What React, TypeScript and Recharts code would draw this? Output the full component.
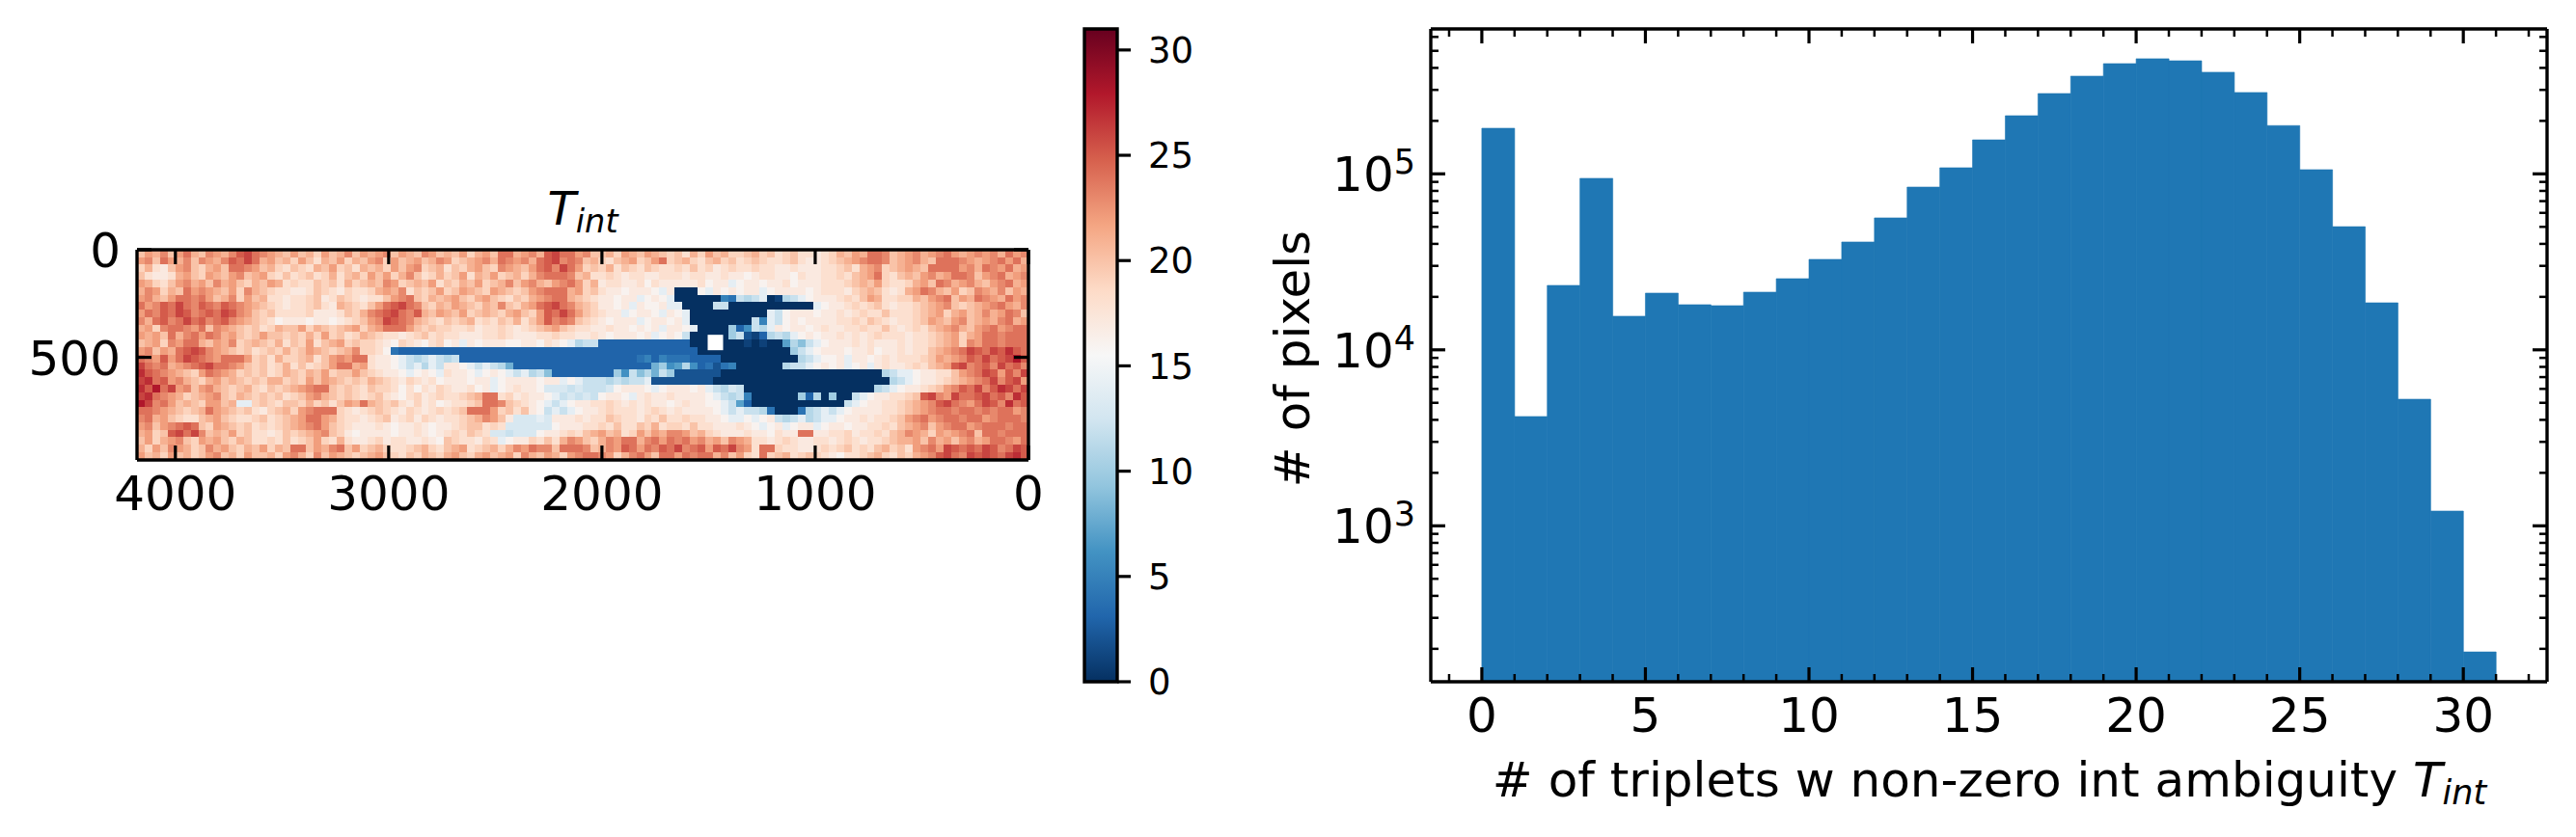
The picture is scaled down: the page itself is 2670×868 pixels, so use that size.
import React from "react";
import {
  BarChart,
  Bar,
  ScatterChart,
  Scatter,
  XAxis,
  YAxis,
} from "recharts";

const FONT = "DejaVu Sans";
const HIST_COLOR = "#1f77b4";

// histogram, one bin per integer 0..30
const HIST_COUNTS = [
  181600, 4180, 23230, 94300, 15520, 21000, 18050, 17820, 21270, 25370, 32660,
  41000, 56200, 84100, 108300, 156000, 214000, 286000, 359000, 423000, 451000,
  439000, 378000, 290000, 188000, 105600, 50100, 18500, 5240, 1213, 192,
];
const HIST_X_TICKS = [0, 5, 10, 15, 20, 25, 30];
const HIST_X_MINOR = [
  -1, 1, 2, 3, 4, 6, 7, 8, 9, 11, 12, 13, 14, 16, 17, 18, 19, 21, 22, 23, 24, 26,
  27, 28, 29, 31, 32,
];
const HIST_Y_TICKS = [1000, 10000, 100000];
const HIST_Y_MINOR = [
  200, 300, 400, 500, 600, 700, 800, 900, 2000, 3000, 4000, 5000, 6000, 7000,
  8000, 9000, 20000, 30000, 40000, 50000, 60000, 70000, 80000, 90000, 200000,
  300000, 400000, 500000, 600000,
];

const HEAT_X_TICKS = [4000, 3000, 2000, 1000, 0];
const HEAT_Y_TICKS = [0, 500];
const CBAR_TICKS = [0, 5, 10, 15, 20, 25, 30];
const CBAR_DATA = [{ slot: "scale", top: 31 }];

// RdBu_r stops
const RDBU = [
  "#053061", "#2166ac", "#4393c3", "#92c5de", "#d1e5f0", "#f7f7f7", "#fddbc7",
  "#f4a582", "#d6604d", "#b2182b", "#67001f",
];

const HEAT_ROWS = [
  "kmlnkmolkn mlnpqonmlk mkljmklnkm lmnkmlknmk lkmjlmkool mnlpqoomnk kljmlkmlkj kiljmkljjk ljkijkiihi jlkmloonkl mnlmnomlmn mnlomn",
  "mnkomlnknm lnpoqolmkl jmkilkmjlk mnjmklmkln mjklmnlonm nlopqnonkl jiklmjkmoj kljikljkij kjiijkihhi jklmnoonkl mnlkooonml mnomol",
  "jlihkmnkjl mkoonmklji kjilkmjkil kljmkmnjkl ikjlmkjnml kmopnqomjk jlikjikjii jikijhijii jiihhihhhi ijkilmnjkl mlkoooomnl onmolm",
  "kihhilmkjm lkmnklmjik ijkijliklj mkmjlnkijl jkmilkmjkl jlnooonkli ijihiihhii ihiihhihhg hiihhgihhi ijiklmojik lkmnlmoonk mnolmn",
  "mljikmnlmk nlmkjlkmli jiikjkiljk lknmjklkmi kjlkmjklnk mnlkmnomjl hiihhigihh hhhighhegh hghhighhhi iijklkmjii jlmkonlmnl kmnolm",
  "lnmjlkomnm lkmjnlkjii hhikjihjii jlmlnikjkm jkmlkjmlkj kmnooolmjk ihhghhhgeh 000gehghgh heghhhhghi iihjklkihi lmonlkmjkn mlnkml",
  "mnlkmoonom klnjmkliih iijkhikjih iikmnokjlk lmkjlmkjik jlmnoolkji hhghheghge 00000054cb ce01bceghh hijikmliij jlkmnokmlo nmlomn",
  "omnpoqonpo nponmlkjih iijkihlkji kmopqonkjl kmlkjlknkj lmopqonlkj hhghehgghe e0000cc000 00000000eg hhijijkihi ijklmnkjkl mnomln",
  "monpoqpnop oqpnmkjkii iijhhhikjl nopqonplkm lkmjklkjlm kjmpoqomkj ihheghhgeh ge00000000 00ecghhhgh hihijiikii ijklmjlmkl nlmonk",
  "nlopnoqopn opnmlkjigh hhghhghijk mnqponlkji kjklijikjl ikmpnonkji hghhheghhg he00000000 c5ecghghhh hiijikjihi ijkmlkmnkl mlnolm",
  "lmjnoonmok nmlkjkijlk kmjlkjklmj lmooomkjkj jiijhiijih ijklmkjiih hihhghgheh hge0000a36 cbehghhghi hhiijiikih ijiklmnlkm nomnoo",
  "mlmkolnomo nlmkjkmkkj kjljmjkijl kjiihijkij iihhhiijih hhiijiihhi hghhhghegh gc00000ac2 13bcbeghgh hihihijiii hiijklmjlm oonooo",
  "klmjnmoolk mlnjklkjli kjmiklmjkj jihgjihgij ghehghhhgg hhgihgebcc 3333333333 3300000001 01007b9ceg hhhihihhhi hiijklmjnm oonooo",
  "mnkmlopqpn mlkjkijkjl jkmlkjklnj jig4333333 3333333333 3333333333 3333333333 3330000000 00000acegh hhghhighhi hiiklmnoqp oqprpo",
  "onmpmoqpon mooomjkilj jklikmnmoo ihhgecbcec bc33333333 3333333333 3333345354 4433330000 000000bceg ghehhghihi iijkmlmnpo qopqsp",
  "qonolmnopq oonmkjkijl ikijkmoolm ihhgecebec hhgececb83 3333333333 33333338a6 7b63424500 0000bccegh gheghehihh ijiklmpqno pnqopn",
  "rponmlkjmo nmljkjkijl kjlkmjkkmk jihhgeghge ihhgeghgec ebc9333333 33a6c9b8ca 2222220000 0000000000 0000000bce eghhiikmno qpmpnq",
  "qropmnlkjl mklkjkjllj kjmkmlkjkj lkjihjihig hhhghheghh hhghhegecc cbcbcce222 2222200000 0000000000 00000000bc eghhijklmn oqnpqm",
  "rpsoqmnkmn lkjkljikjk lmnookjkji kjjigigihj ihhigheghi hhgdddcdcc cdghhhgegh hhghecbdc0 0000000000 000000bceg hhijkmnpoq nprqoq",
  "qronmljklm nkjlkjkjki jkmnlkjkji jkihgijhij iijklooijh ihhgecdcdc ghhgehihhi hhhhgecbc5 000000a3b0 a00ceghhii jkpqnmqoop qopnrp",
  "sqnomklkjm mkleejkjik kjljkikmlo lkjkihjhig hiijkoonkj ihgeceghhi ijihihihhg hihhggec73 0000000000 00ceghhiij klmnpqonmo qpnrop",
  "oonmlkjklo mlkjkihjkl jmnooojihi jkjihjihij ijkooomjki khgceceghh ijiiihijih ihhhhgecec cb40004bce ceghhhhiij klmnoonoon onoomn",
  "nolmkjiikl mkjiijkijk lmoomljiih ijkhijhjih iijklnmkhd ddedhhhihi ikjiihjiki ijiihhgeeg eghcbcebce eghhihiijk mnomnoonoo mnooon",
  "mnkmnopokj mlkjkijijk lmnomkjihh hihghhihgh hijkkijidd ddddghhhii jikiikjlij jikiihhhih gegheghheg hhghhiijik lmnkmnoomn ooonoo",
  "lmjkpqoqnk lkmjkiihik jklmnkjhgh hhhghhihgh ijikjiddcd ddghhijikl mklijmkmln nmkljihhhi hhgihhoohh iijhiijikl nmljmlmnok oonooo",
  "kmjlmnkjml mkjlkiijik ijkmjilihh ijhiihhihg kjiihjiegh hjikilnmkj lnmoolnomo nomnlmknml iihijihhii hijihiijkl lmknlmkmnl moonmo",
  "ljmknmljkn lmkjlkmjlk ookmlnokmj kljiijklji klmijkljln monnkooonk lnmpomonpo qnopmpoqnm ioojiihhij ijkijikljk imnomqpopo qpnoqp",
  "mkljmkljkm nkljmkkljm nljnkmlkjk lmkjikjlkj lmkjlmklmj nlkmljmnoo nmjlnomkoo monoolnkmj iojklijkji hgiijkljik jlmnpqonqp qpoqrp",
];

const HEAT_W = 4180;
const HEAT_H = 977;
const HEAT_COLS = 116;
const VMAX = 31;
// blank rectangle in the map (masked pixels)
const HOLE_DATA = [{ x: 1468, y: 431 }];

const heatCells = HEAT_ROWS.flatMap((row, r) =>
  row
    .replace(/ /g, "")
    .split("")
    .map((ch, c) => ({
      x: HEAT_W - ((c + 0.5) * HEAT_W) / HEAT_COLS,
      y: ((r + 0.5) * HEAT_H) / HEAT_ROWS.length,
      v: parseInt(ch, 32),
    }))
);

const histData = HIST_COUNTS.map((count, i) => ({ bin: i + 0.5, count }));
const HIST_X_ALL = [...HIST_X_TICKS, ...HIST_X_MINOR].sort((a, b) => a - b);
const HIST_Y_ALL = [...HIST_Y_TICKS, ...HIST_Y_MINOR].sort((a, b) => a - b);

function rdbu(v: number) {
  const t = (Math.min(v, VMAX) / VMAX) * (RDBU.length - 1);
  const i = Math.min(Math.floor(t), RDBU.length - 2);
  const f = t - i;
  const ch = (hex: string, o: number) => parseInt(hex.slice(o, o + 2), 16);
  const mix = (o: number) =>
    Math.round(ch(RDBU[i], o) * (1 - f) + ch(RDBU[i + 1], o) * f);
  return `rgb(${mix(1)},${mix(3)},${mix(5)})`;
}

const SPINE = 3.4;
const axisLine = { stroke: "#000", strokeWidth: SPINE };
const MAJOR_LEN = 15;
const MINOR_LEN = 8;
const MAJOR_W = 3.2;
const MINOR_W = 2.5;

// inward tick; dx/dy give the direction, majors are longer and may carry a label
const inTick =
  (dx: number, dy: number, majors: number[], label?: (p: any) => React.ReactNode) =>
  (p: any) => {
    const major = majors.includes(p.payload.value);
    const len = major ? MAJOR_LEN : MINOR_LEN;
    return (
      <g>
        <line
          x1={p.x}
          y1={p.y}
          x2={p.x + dx * len}
          y2={p.y + dy * len}
          stroke="#000"
          strokeWidth={major ? MAJOR_W : MINOR_W}
        />
        {major && label ? label(p) : null}
      </g>
    );
  };

const xLabel = (p: any) => (
  <text x={p.x} y={p.y + 52} textAnchor="middle" fontFamily={FONT} fontSize={50} fill="#000">
    {p.payload.value}
  </text>
);

const heatYLabel = (p: any) => (
  <text x={p.x - 17} y={p.y + 18} textAnchor="end" fontFamily={FONT} fontSize={50} fill="#000">
    {p.payload.value}
  </text>
);

const histYLabel = (p: any) => (
  <text x={p.x - 16} y={p.y + 18} textAnchor="end" fontFamily={FONT} fontSize={50} fill="#000">
    10
    <tspan dy={-18} fontSize={35}>
      {Math.round(Math.log10(p.payload.value))}
    </tspan>
  </text>
);

const heatCell = (p: any) => (
  <rect
    x={p.cx - 4.2}
    y={p.cy - 4.1}
    width={8.4}
    height={8.2}
    fill={rdbu(p.payload.v)}
    shapeRendering="crispEdges"
  />
);

const holeCell = (p: any) => (
  <rect x={p.cx - 8} y={p.cy - 8} width={16} height={16} fill="#fff" />
);

function Tint({ x, y, size }: { x: number; y: number; size: number }) {
  return (
    <text x={x} y={y} textAnchor="middle" fontFamily={FONT} fontStyle="italic" fontSize={size} fill="#000">
      T
      <tspan dy={8} fontSize={size * 0.7}>
        int
      </tspan>
    </text>
  );
}

function HeatPanel() {
  const xProps = {
    type: "number" as const,
    domain: [0, HEAT_W],
    reversed: true,
    allowDataOverflow: true,
    height: 1,
    tickSize: 0,
    tickMargin: 0,
    interval: 0 as const,
    axisLine,
    tickLine: false,
    ticks: HEAT_X_TICKS,
  };
  const yProps = {
    type: "number" as const,
    domain: [0, HEAT_H],
    reversed: true,
    allowDataOverflow: true,
    width: 1,
    tickSize: 0,
    tickMargin: 0,
    interval: 0 as const,
    axisLine,
    tickLine: false,
    ticks: HEAT_Y_TICKS,
  };
  return (
    <ScatterChart width={1100} height={868} margin={{ left: 141, right: 33, top: 258, bottom: 390 }}>
      <Scatter
        data={heatCells}
        dataKey="y"
        xAxisId="bottom"
        yAxisId="left"
        shape={heatCell}
        zIndex={100}
        isAnimationActive={false}
      />
      <Scatter
        data={HOLE_DATA}
        dataKey="y"
        xAxisId="bottom"
        yAxisId="left"
        shape={holeCell}
        zIndex={101}
        isAnimationActive={false}
      />
      <XAxis {...xProps} xAxisId="bottom" dataKey="x" orientation="bottom" tick={inTick(0, -1, HEAT_X_TICKS, xLabel)} />
      <XAxis {...xProps} xAxisId="top" dataKey="x" orientation="top" tick={inTick(0, 1, HEAT_X_TICKS)} />
      <YAxis {...yProps} yAxisId="left" dataKey="y" orientation="left" tick={inTick(1, 0, HEAT_Y_TICKS, heatYLabel)} />
      <YAxis {...yProps} yAxisId="right" dataKey="y" orientation="right" tick={inTick(-1, 0, HEAT_Y_TICKS)} />
      <Tint x={604} y={233} size={48} />
    </ScatterChart>
  );
}

function ColorBar() {
  return (
    <BarChart
      width={200}
      height={868}
      data={CBAR_DATA}
      barCategoryGap={0}
      margin={{ left: 24, right: 60, top: 30, bottom: 161 }}
    >
      <defs>
        <linearGradient id="rdbu" x1="0" y1="1" x2="0" y2="0">
          {RDBU.map((c, i) => (
            <stop key={c} offset={i / (RDBU.length - 1)} stopColor={c} />
          ))}
        </linearGradient>
      </defs>
      <XAxis dataKey="slot" hide />
      <YAxis
        type="number"
        orientation="right"
        domain={[0, VMAX]}
        ticks={CBAR_TICKS}
        interval={0}
        width={82}
        axisLine={false}
        tickSize={14}
        tickMargin={18}
        tickLine={{ stroke: "#000", strokeWidth: MAJOR_W }}
        tick={{ fontSize: 37, fontFamily: FONT, fill: "#000" }}
      />
      <Bar dataKey="top" fill="url(#rdbu)" stroke="#000" strokeWidth={SPINE} isAnimationActive={false} />
    </BarChart>
  );
}

// two stacked copies with the same scales: the bars, then the frame and ticks on top
function HistPanel({ frame }: { frame: boolean }) {
  const xProps = {
    type: "number" as const,
    domain: [-1.56, 32.56],
    allowDataOverflow: true,
    dataKey: "bin",
    height: 1,
    tickSize: 0,
    tickMargin: 0,
    interval: 0 as const,
    axisLine: frame ? axisLine : false,
    tickLine: false,
    ticks: HIST_X_ALL,
  };
  const yProps = {
    type: "number" as const,
    scale: "log" as const,
    domain: [130, 666000],
    allowDataOverflow: true,
    dataKey: "count",
    width: 1,
    tickSize: 0,
    tickMargin: 0,
    interval: 0 as const,
    axisLine: frame ? axisLine : false,
    tickLine: false,
    ticks: HIST_Y_ALL,
  };
  return (
    <BarChart
      width={1380}
      height={868}
      data={histData}
      barCategoryGap={0}
      barGap={0}
      margin={{ left: 192, right: 29, top: 29, bottom: 160 }}
    >
      <Bar
        dataKey="count"
        xAxisId="bottom"
        yAxisId="left"
        fill={frame ? "none" : HIST_COLOR}
        stroke={frame ? "none" : HIST_COLOR}
        strokeWidth={0.6}
        isAnimationActive={false}
      />
      <XAxis {...xProps} xAxisId="bottom" orientation="bottom" tick={frame ? inTick(0, -1, HIST_X_TICKS, xLabel) : false} />
      <XAxis {...xProps} xAxisId="top" orientation="top" tick={frame ? inTick(0, 1, HIST_X_TICKS) : false} />
      <YAxis {...yProps} yAxisId="left" orientation="left" tick={frame ? inTick(1, 0, HIST_Y_TICKS, histYLabel) : false} />
      <YAxis {...yProps} yAxisId="right" orientation="right" tick={frame ? inTick(-1, 0, HIST_Y_TICKS) : false} />
      {frame && (
        <text
          transform="translate(67 372) rotate(-90)"
          textAnchor="middle"
          fontFamily={FONT}
          fontSize={50}
          fill="#000"
        >
          # of pixels
        </text>
      )}
      {frame && (
        <text x={772} y={826} textAnchor="middle" fontFamily={FONT} fontSize={50} fill="#000">
          # of triplets w non-zero int ambiguity{" "}
          <tspan fontStyle="italic">T</tspan>
          <tspan fontStyle="italic" dy={8} fontSize={35}>
            int
          </tspan>
        </text>
      )}
    </BarChart>
  );
}

export default function App() {
  return (
    <div style={{ position: "absolute", left: 0, top: 0, width: 2670, height: 868, background: "#fff", overflow: "hidden" }}>
      <div style={{ position: "absolute", left: 0, top: 0 }}>
        <HeatPanel />
      </div>
      <div style={{ position: "absolute", left: 1100, top: 0 }}>
        <ColorBar />
      </div>
      <div style={{ position: "absolute", left: 1290, top: 0 }}>
        <HistPanel frame={false} />
      </div>
      <div style={{ position: "absolute", left: 1290, top: 0 }}>
        <HistPanel frame={true} />
      </div>
    </div>
  );
}
